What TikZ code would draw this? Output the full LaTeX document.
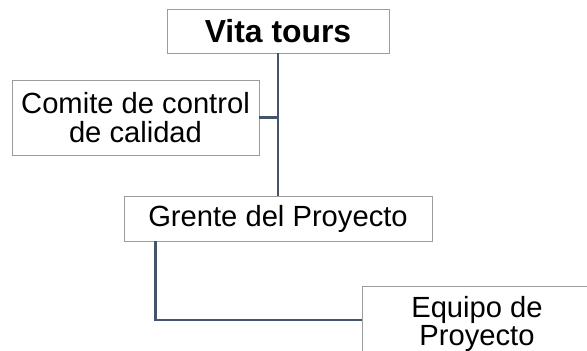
\documentclass[tikz,border=0pt]{standalone}
\usepackage{fontspec}
\setmainfont{Liberation Sans}
\usetikzlibrary{positioning}
\definecolor{linecol}{HTML}{44546A}
\definecolor{boxgray}{HTML}{9C9C9C}
\tikzset{
  orgbox/.style={draw=boxgray,line width=0.8pt,fill=white,inner sep=0pt,align=center,
    font=\fontsize{24.9}{24.5}\selectfont},
  orgline/.style={draw=linecol,line width=2.4pt}
}

\begin{document}
\begin{tikzpicture}
\useasboundingbox[fill=white] (0,0) rectangle (17.61,10.5);
\node[orgbox,minimum width=6.66cm,minimum height=1.32cm,font=\fontsize{27.2}{28}\selectfont\bfseries] (vita) at (8.34,9.57) {Vita tours};
\node[orgbox,minimum width=7.41cm,minimum height=2.25cm] (comite) at (4.065,6.975) {Comite de control\\de calidad};
\node[orgbox,minimum width=9.24cm,minimum height=1.35cm] (gerente) at (8.34,3.945) {Grente del Proyecto};
\node[orgbox,minimum width=6.9cm,minimum height=2.25cm] (equipo) at (14.31,0.78) {Equipo de\\Proyecto};

\draw[orgline] (vita.south) -- (gerente.north);
\draw[orgline] (comite.east) -- (comite.east -| vita.south);
\draw[orgline] ([xshift=0.96cm]gerente.south west) |- ([yshift=0.12cm]equipo.west);
\end{tikzpicture}
\end{document}
